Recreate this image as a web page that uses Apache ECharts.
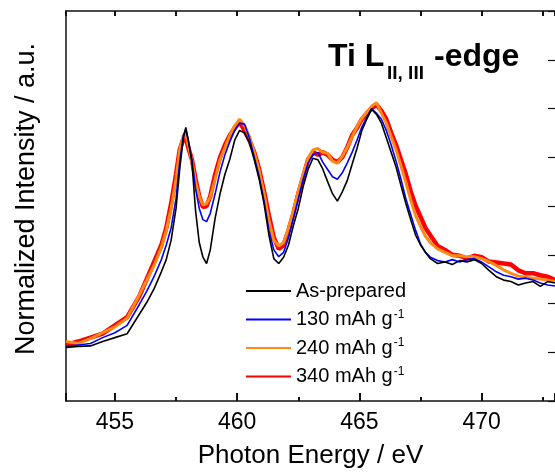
<!DOCTYPE html>
<html>
<head>
<meta charset="utf-8">
<script src="https://cdn.jsdelivr.net/npm/echarts@6/dist/echarts.min.js"></script>
<style>
  html, body { margin: 0; padding: 0; background: #fff; }
  #main { width: 555px; height: 474px; }
</style>
</head>
<body>
<div id="main"></div>
<script>
// photon energy (eV), shared by all four spectra
var energy = [
  453.0, 453.5, 454.0, 454.5, 455.0, 455.5, 456.0, 456.3, 456.6, 456.9,
  457.1, 457.3, 457.5, 457.65, 457.8, 457.9, 458.0, 458.15, 458.3, 458.45,
  458.6, 458.75, 458.9, 459.1, 459.3, 459.5, 459.7, 459.9, 460.1, 460.3,
  460.5, 460.7, 460.9, 461.1, 461.3, 461.5, 461.7, 461.9, 462.1, 462.3,
  462.5, 462.7, 462.9, 463.1, 463.3, 463.5, 463.7, 463.9, 464.1, 464.3,
  464.5, 464.7, 464.9, 465.1, 465.3, 465.5, 465.7, 465.9, 466.1, 466.3,
  466.5, 466.7, 466.9, 467.1, 467.3, 467.5, 467.7, 467.9, 468.2, 468.5,
  468.8, 469.1, 469.4, 469.7, 470.0, 470.3, 470.6, 470.9, 471.2, 471.5,
  471.8, 472.1, 472.4, 472.7, 473.0
];

// normalized intensity (a.u.)
var asPrepared = [
  1.10, 1.12, 1.13, 1.22, 1.30, 1.38, 1.78, 2.02, 2.30, 2.65,
  2.90, 3.30, 3.95, 4.75, 5.40, 5.61, 5.35, 4.90, 3.90, 3.25,
  2.95, 2.82, 3.10, 3.75, 4.25, 4.65, 4.96, 5.35, 5.55, 5.50,
  5.30, 4.95, 4.55, 4.05, 3.40, 2.92, 2.82, 2.95, 3.20, 3.60,
  3.95, 4.40, 4.75, 4.98, 4.95, 4.76, 4.50, 4.25, 4.10, 4.29,
  4.52, 4.85, 5.18, 5.55, 5.78, 5.98, 5.88, 5.70, 5.40, 5.10,
  4.80, 4.42, 4.05, 3.72, 3.40, 3.20, 3.05, 2.92, 2.82, 2.85,
  2.80, 2.88, 2.85, 2.90, 2.82, 2.68, 2.55, 2.48, 2.45, 2.38,
  2.42, 2.45, 2.35, 2.45, 2.42
];
var mAh130 = [
  1.12, 1.15, 1.18, 1.30, 1.40, 1.55, 1.98, 2.25, 2.55, 2.90,
  3.20, 3.55, 4.15, 4.90, 5.45, 5.57, 5.35, 4.95, 4.35, 3.95,
  3.72, 3.68, 3.85, 4.25, 4.70, 5.05, 5.32, 5.55, 5.70, 5.68,
  5.40, 5.00, 4.60, 4.10, 3.50, 3.10, 2.96, 3.05, 3.35, 3.75,
  4.15, 4.55, 4.88, 5.05, 5.10, 4.90, 4.75, 4.60, 4.55, 4.68,
  4.88, 5.10, 5.35, 5.62, 5.82, 6.00, 5.90, 5.78, 5.55, 5.25,
  4.92, 4.55, 4.15, 3.82, 3.50, 3.22, 3.05, 2.95, 2.88, 2.85,
  2.90, 2.85, 2.90, 2.92, 2.85, 2.75, 2.65, 2.58, 2.55, 2.50,
  2.52, 2.48, 2.42, 2.38, 2.36
];
var mAh240 = [
  1.22, 1.18, 1.28, 1.40, 1.52, 1.70, 2.18, 2.48, 2.78, 3.15,
  3.50, 3.95, 4.55, 5.15, 5.45, 5.48, 5.25, 4.92, 4.50, 4.20,
  4.02, 4.05, 4.18, 4.55, 4.95, 5.20, 5.45, 5.65, 5.78, 5.65,
  5.43, 5.10, 4.72, 4.25, 3.70, 3.30, 3.18, 3.25, 3.55, 3.90,
  4.30, 4.65, 4.98, 5.15, 5.18, 5.10, 5.08, 4.92, 4.88, 5.02,
  5.20, 5.42, 5.62, 5.80, 5.92, 6.05, 6.12, 5.90, 5.70, 5.42,
  5.15, 4.82, 4.48, 4.12, 3.80, 3.58, 3.38, 3.25, 3.12, 3.05,
  2.98, 2.98, 2.96, 2.96, 2.92, 2.86, 2.78, 2.69, 2.62, 2.56,
  2.54, 2.52, 2.50, 2.48, 2.45
];
var mAh340 = [
  1.15, 1.22, 1.30, 1.38, 1.55, 1.72, 2.15, 2.50, 2.85, 3.20,
  3.55, 4.05, 4.65, 5.15, 5.38, 5.40, 5.20, 4.95, 4.55, 4.20,
  3.98, 4.00, 4.20, 4.65, 5.00, 5.25, 5.45, 5.60, 5.72, 5.55,
  5.35, 5.10, 4.75, 4.30, 3.80, 3.35, 3.12, 3.20, 3.50, 3.85,
  4.25, 4.60, 4.95, 5.10, 5.05, 5.10, 5.05, 4.95, 4.90, 5.00,
  5.20, 5.45, 5.60, 5.78, 5.90, 6.00, 6.08, 5.95, 5.78, 5.50,
  5.25, 4.95, 4.65, 4.30, 4.00, 3.78, 3.55, 3.40, 3.18, 3.10,
  3.00, 2.98, 2.92, 2.98, 2.95, 2.86, 2.84, 2.82, 2.80, 2.68,
  2.62, 2.62, 2.58, 2.55, 2.48
];

var legendNames = ['As-prepared', '130 mAh g-1', '240 mAh g-1', '340 mAh g-1'];

var FONT = 'Liberation Sans, Arial, sans-serif';
var AXIS_COLOR = '#111';

function pairs(ys) {
  return energy.map(function (e, i) { return [e, ys[i]]; });
}

var chart = echarts.init(document.getElementById('main'));

var option = {
  animation: false,
  backgroundColor: '#fff',
  grid: { left: 66, right: 0, top: 11, bottom: 71 },
  xAxis: [
    {
      // min/maxInterval keep the ticks on multiples of the step (455, 460 ...)
      type: 'value', min: 453, max: 473, position: 'bottom',
      minInterval: 5, maxInterval: 5,
      splitLine: { show: false },
      axisLine: { show: true, onZero: false, lineStyle: { color: AXIS_COLOR, width: 1.5 } },
      axisTick: { show: true, inside: true, length: 8, lineStyle: { color: AXIS_COLOR, width: 2 } },
      minorTick: { show: true, splitNumber: 2, length: 4, lineStyle: { color: AXIS_COLOR, width: 2 } },
      axisLabel: { show: true, showMinLabel: false, showMaxLabel: false, margin: 10, fontSize: 23, color: '#000', fontFamily: FONT },
      name: 'Photon Energy / eV', nameLocation: 'middle', nameGap: 42,
      nameTextStyle: { fontSize: 26, color: '#000', fontFamily: FONT }
    },
    {
      type: 'value', min: 453, max: 473, position: 'top',
      minInterval: 2.5, maxInterval: 2.5,
      splitLine: { show: false },
      axisLine: { show: true, onZero: false, lineStyle: { color: AXIS_COLOR, width: 1.5 } },
      axisTick: { show: true, inside: true, length: 5, lineStyle: { color: AXIS_COLOR, width: 2 } },
      axisLabel: { show: false }
    }
  ],
  yAxis: [
    {
      type: 'value', min: 0, max: 8, interval: 1, position: 'left',
      axisLine: { show: true, onZero: false, lineStyle: { color: AXIS_COLOR, width: 1.5 } },
      axisTick: { show: false }, axisLabel: { show: false }, splitLine: { show: false }
    },
    {
      type: 'value', min: 0, max: 8, interval: 1, position: 'right',
      axisLine: { show: false, onZero: false },
      axisTick: { show: true, inside: true, length: 7, lineStyle: { color: AXIS_COLOR, width: 1.2 } },
      axisLabel: { show: false }, splitLine: { show: false }
    }
  ],
  legend: {
    orient: 'vertical',
    left: 240, top: 276,
    itemWidth: 45, itemHeight: 14, itemGap: 7.5,
    data: legendNames,
    itemStyle: { opacity: 0 },
    textStyle: {
      fontSize: 20, color: '#000', fontFamily: FONT,
      rich: {
        n: { fontSize: 20, lineHeight: 22, color: '#000', fontFamily: FONT },
        s: { fontSize: 12, lineHeight: 22, verticalAlign: 'top', color: '#000', fontFamily: FONT, padding: [0, 0, 0, 1] }
      }
    },
    formatter: function (name) {
      if (/-1$/.test(name)) {
        return '{n|' + name.replace(/-1$/, '') + '}{s|-1}';
      }
      return '{n|' + name + '}';
    }
  },
  graphic: [
    { type: 'text', left: 328, top: 41, style: { text: 'Ti L', font: 'bold 32px ' + FONT, fill: '#000' } },
    { type: 'text', left: 387, top: 64, style: { text: 'II, III', font: 'bold 19px ' + FONT, fill: '#000' } },
    { type: 'text', left: 434, top: 41, style: { text: '-edge', font: 'bold 32px ' + FONT, fill: '#000' } },
    {
      type: 'text', x: 27, y: 199, rotation: Math.PI / 2,
      style: { text: 'Normalized Intensity / a.u.', font: '27px ' + FONT, fill: '#000', align: 'center', verticalAlign: 'middle' }
    }
  ],
  series: [
    { name: '340 mAh g-1', type: 'line', data: pairs(mAh340), showSymbol: false, symbol: 'none', z: 2,
      lineStyle: { color: '#ff0000', width: 4.5 }, itemStyle: { color: '#ff0000' } },
    { name: '240 mAh g-1', type: 'line', data: pairs(mAh240), showSymbol: false, symbol: 'none', z: 3,
      lineStyle: { color: '#ff8a14', width: 3 }, itemStyle: { color: '#ff8a14' } },
    { name: '130 mAh g-1', type: 'line', data: pairs(mAh130), showSymbol: false, symbol: 'none', z: 4,
      lineStyle: { color: '#0000ff', width: 1.6 }, itemStyle: { color: '#0000ff' } },
    { name: 'As-prepared', type: 'line', data: pairs(asPrepared), showSymbol: false, symbol: 'none', z: 5,
      lineStyle: { color: '#000000', width: 1.6 }, itemStyle: { color: '#000000' } }
  ]
};

chart.setOption(option);
</script>
</body>
</html>
